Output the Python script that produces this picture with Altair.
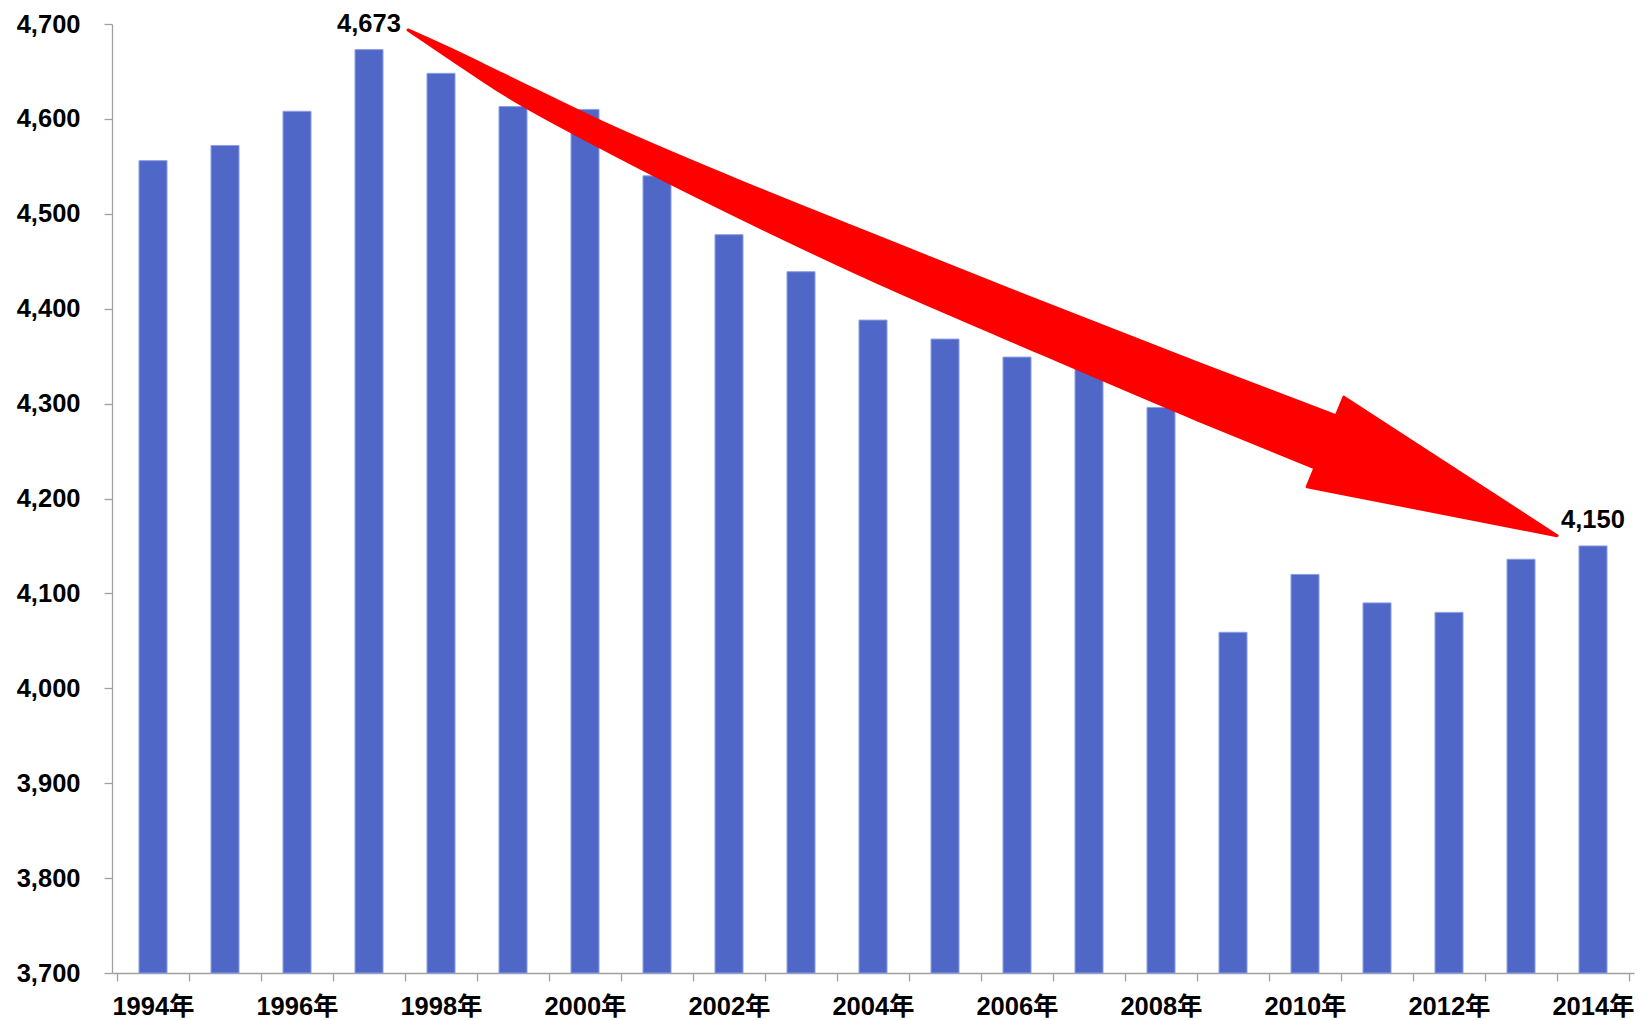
import altair as alt
import pandas as pd

# ---- data ----
years = list(range(1994, 2015))
values = [4556, 4572, 4608, 4673, 4648, 4613, 4610, 4540, 4478, 4439, 4388,
          4368, 4349, 4372, 4296, 4059, 4120, 4090, 4080, 4136, 4150]

label_years = [1997, 2014]
label_texts = ["4,673", "4,150"]

y_ticks = list(range(3700, 4701, 100))

# red arrow annotation (data units: year, value): shaft upper / lower edges
shaft_x = [1997.542, 1998.163, 1998.853, 2000.233, 2002.068, 2004.372, 2005.752, 2008.511, 2010.443]
shaft_upper = [4693.7, 4672.4, 4647.2, 4596.7, 4536.9, 4466.5, 4424.5, 4342.5, 4286.9]
shaft_lower = [4693.7, 4661.9, 4627.2, 4569.4, 4499.1, 4417.1, 4372.0, 4282.7, 4222.8]

# arrow head: back-lower corner, back-upper corner, tip
head_x = [2010.03, 2010.54, 2013.50]
head_y = [4212.3, 4306.8, 4160.8]

# ---- tables ----
df = pd.DataFrame({"year": years, "value": values})
lab_df = pd.DataFrame({
    "year": label_years,
    "value": [values[years.index(y)] for y in label_years],
    "label": label_texts,
})
shaft_df = pd.DataFrame({"x": shaft_x, "y": shaft_upper, "y2": shaft_lower})

ax, ay = head_x[0], head_y[0]
bx, by = head_x[1], head_y[1]
tx, ty = head_x[2], head_y[2]
low_at_b = ay + (bx - ax) / (tx - ax) * (ty - ay)
head_df = pd.DataFrame({
    "x": [ax, bx, tx],
    "y": [ay, by, ty],
    "y2": [ay, low_at_b, ty],
})

FONT = "Liberation Sans, Noto Sans CJK JP"
AXIS_COLOR = "#A0A0A0"

x_tick_vals = [1993.5 + 0.5 * i for i in range(43)]
xscale = alt.Scale(domain=[1993.5, 2014.5], nice=False, zero=False)
yscale = alt.Scale(domain=[3700, 4700], nice=False, zero=False)

x_axis = alt.Axis(
    title=None,
    values=x_tick_vals,
    labelExpr="datum.value % 2 == 0 ? datum.value + '年' : ''",
    labelOverlap=False,
    labelFont=FONT,
    labelFontSize=25.5,
    labelFontWeight="bold",
    labelColor="black",
    labelBaseline="alphabetic",
    labelPadding=33,
    tickSize=8,
    tickColor=AXIS_COLOR,
    tickWidth=1.3,
    tickOpacity={"condition": {"test": "datum.value % 1 != 0", "value": 1}, "value": 0},
    domainColor=AXIS_COLOR,
    domainWidth=1.3,
    grid=False,
)
y_axis = alt.Axis(
    title=None,
    values=y_ticks,
    labelExpr="format(datum.value, ',')",
    labelFont=FONT,
    labelFontSize=25.5,
    labelFontWeight="bold",
    labelColor="black",
    labelPadding=24,
    tickSize=8,
    tickColor=AXIS_COLOR,
    tickWidth=1.3,
    domainColor=AXIS_COLOR,
    domainWidth=1.3,
    grid=False,
)


def X(field):
    return alt.X(field, type="quantitative", scale=xscale, axis=x_axis)


def Y(field):
    return alt.Y(field, type="quantitative", scale=yscale, axis=y_axis)


bars = alt.Chart(df).mark_bar(
    width=28, color="#4F67C7", stroke="#8C9EE3", strokeWidth=1
).encode(
    x=X("year"),
    y=Y("value"),
    y2=alt.datum(3700),
)

labels = alt.Chart(lab_df).mark_text(
    font=FONT, fontSize=25.5, fontWeight="bold", color="black",
    baseline="alphabetic", align="center", dy=-18,
).encode(
    x=X("year"),
    y=Y("value"),
    text="label:N",
)

shaft = alt.Chart(shaft_df).mark_area(
    color="#FF0000", stroke="#FF0000", strokeWidth=3, strokeJoin="round",
    interpolate="monotone",
).encode(
    x=X("x"),
    y=Y("y"),
    y2="y2:Q",
)

head = alt.Chart(head_df).mark_area(
    color="#FF0000", stroke="#FF0000", strokeWidth=3, strokeJoin="round"
).encode(
    x=X("x"),
    y=Y("y"),
    y2="y2:Q",
)

chart = alt.layer(bars, shaft, head, labels).properties(
    width=1522,
    height=949,
    autosize=alt.AutoSizeParams(type="none"),
    padding={"left": 104, "top": 16, "right": 8, "bottom": 52},
).configure_view(stroke=None)

chart.save("out.html", embed_options={"renderer": "svg", "actions": False})
